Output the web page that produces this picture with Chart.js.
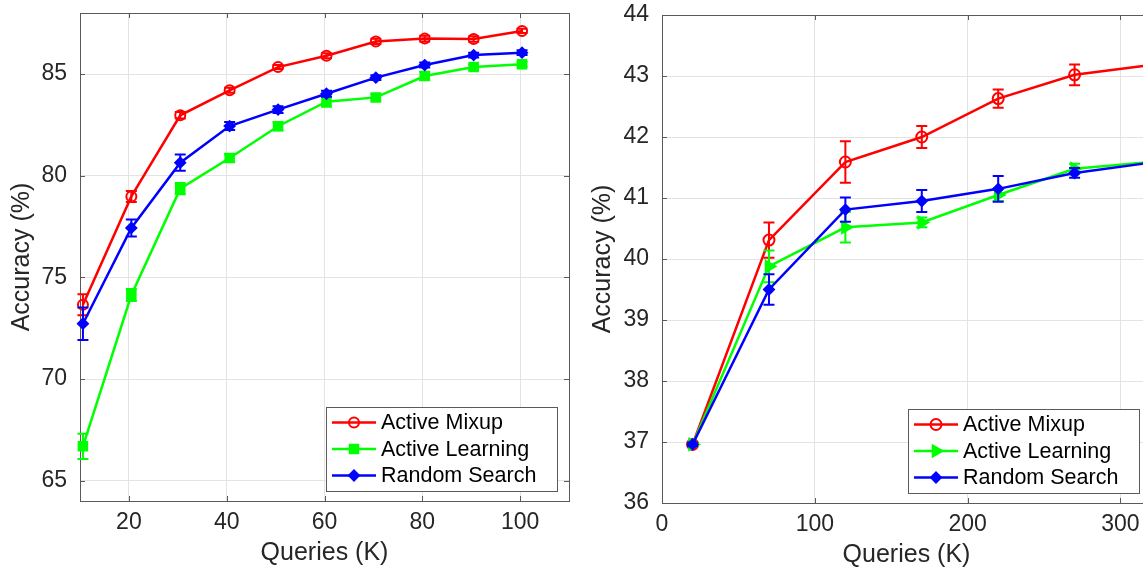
<!DOCTYPE html>
<html>
<head>
<meta charset="utf-8">
<script src="https://cdn.jsdelivr.net/npm/chart.js@4.4.1/dist/chart.umd.min.js"></script>
<style>
html,body{margin:0;padding:0;background:#fff;overflow:hidden;width:1143px;height:571px;}
.wrap{position:absolute;top:0;height:571px;}
</style>
</head>
<body>
<div class="wrap" style="left:0;width:580px"><canvas id="c1" width="580" height="571"></canvas></div>
<div class="wrap" style="left:580px;width:600px"><canvas id="c2" width="600" height="571"></canvas></div>
<script>
// ---------------- DATA ----------------
const seriesNames = ['Active Mixup', 'Active Learning', 'Random Search'];

// Left panel
const leftQueries   = [10.6, 20.5, 30.5, 40.6, 50.5, 60.4, 70.5, 80.5, 90.5, 100.4];
const leftMixup     = [73.65, 78.98, 82.97, 84.20, 85.34, 85.90, 86.60, 86.74, 86.72, 87.12];
const leftMixupErr  = [0.52, 0.27, 0.16, 0.12, 0.10, 0.12, 0.13, 0.14, 0.14, 0.10];
const leftLearning  = [66.69, 74.13, 79.36, 80.87, 82.43, 83.64, 83.85, 84.90, 85.34, 85.48];
const leftLearningErr = [0.62, 0.30, 0.28, 0.20, 0.20, 0.25, 0.16, 0.20, 0.12, 0.12];
const leftRandom    = [72.72, 77.43, 80.64, 82.44, 83.25, 84.03, 84.82, 85.44, 85.93, 86.05];
const leftRandomErr = [0.80, 0.42, 0.40, 0.20, 0.17, 0.15, 0.12, 0.12, 0.12, 0.12];
const leftXTicks = [20, 40, 60, 80, 100];
const leftYTicks = [65, 70, 75, 80, 85];

// Right panel
const rightQueries   = [20, 70, 120, 170, 220, 270, 320];
const rightMixup     = [36.96, 40.31, 41.59, 42.00, 42.63, 43.02, 43.18];
const rightMixupErr  = [0.03, 0.29, 0.34, 0.18, 0.15, 0.17, 0.15];
const rightLearning  = [36.96, 39.88, 40.52, 40.60, 41.05, 41.48, 41.59];
const rightLearningErr = [0.03, 0.26, 0.25, 0.08, 0.10, 0.08, 0.08];
const rightRandom    = [36.96, 39.50, 40.81, 40.95, 41.15, 41.41, 41.58];
const rightRandomErr = [0.03, 0.25, 0.20, 0.18, 0.21, 0.08, 0.08];
const rightXTicks = [0, 100, 200, 300];
const rightYTicks = [36, 37, 38, 39, 40, 41, 42, 43, 44];

const xTitle = 'Queries (K)';
const yTitle = 'Accuracy (%)';

// ---------------- STYLE ----------------
const FONT = '"Liberation Sans", Arial, Helvetica, sans-serif';
const TEXT = '#262626';
const GRID = '#e3e3e3';
const AXIS = '#5a5a5a';
const RED = '#ff0000', GREEN = '#00ff00', BLUE = '#0000ff';

function pts(xs, ys) { return xs.map((x, i) => ({x: x, y: ys[i]})); }

// error bars drawn through the y scale
const errorBarPlugin = {
  id: 'errorBars',
  beforeDatasetDraw(chart, args) {
    const ds = chart.data.datasets[args.index];
    if (!ds.errors) return;
    const ys = chart.scales.y, ctx = chart.ctx, cap = 5.5;
    ctx.save();
    ctx.strokeStyle = ds.borderColor;
    ctx.lineWidth = 2;
    args.meta.data.forEach((p, i) => {
      const v = ds.data[i].y, e = ds.errors[i];
      const yt = ys.getPixelForValue(v + e), yb = ys.getPixelForValue(v - e);
      ctx.beginPath();
      ctx.moveTo(p.x, yt); ctx.lineTo(p.x, yb);
      ctx.moveTo(p.x - cap, yt); ctx.lineTo(p.x + cap, yt);
      ctx.moveTo(p.x - cap, yb); ctx.lineTo(p.x + cap, yb);
      ctx.stroke();
    });
    ctx.restore();
  }
};

// MATLAB-like box with inward ticks
const boxPlugin = {
  id: 'mbox',
  beforeDatasetsDraw(chart) {
    const {ctx, chartArea: a, scales} = chart;
    ctx.save();
    ctx.strokeStyle = AXIS;
    ctx.lineWidth = 1;
    ctx.strokeRect(Math.round(a.left) + 0.5, Math.round(a.top) + 0.5,
                   Math.round(a.right - a.left), Math.round(a.bottom - a.top));
    const tl = 5;
    ctx.beginPath();
    scales.x.ticks.forEach(t => {
      const x = Math.round(scales.x.getPixelForValue(t.value)) + 0.5;
      ctx.moveTo(x, a.bottom); ctx.lineTo(x, a.bottom - tl);
      ctx.moveTo(x, a.top); ctx.lineTo(x, a.top + tl);
    });
    scales.y.ticks.forEach(t => {
      const y = Math.round(scales.y.getPixelForValue(t.value)) + 0.5;
      ctx.moveTo(a.left, y); ctx.lineTo(a.left + tl, y);
      ctx.moveTo(a.right, y); ctx.lineTo(a.right - tl, y);
    });
    ctx.stroke();
    ctx.restore();
  }
};

// legend in the south-east corner
const legendPlugin = {
  id: 'mlegend',
  afterDraw(chart) {
    const {ctx, chartArea: a} = chart;
    const w = 231, h = 84;
    const x0 = Math.round(a.right - 12 - w), y0 = Math.round(a.bottom - 10 - h);
    ctx.save();
    ctx.fillStyle = '#fff';
    ctx.fillRect(x0, y0, w, h);
    ctx.strokeStyle = AXIS;
    ctx.lineWidth = 1;
    ctx.strokeRect(x0 + 0.5, y0 + 0.5, w, h);
    chart.data.datasets.forEach((ds, i) => {
      const y = y0 + 15.5 + 26.5 * i;
      ctx.strokeStyle = ds.borderColor;
      ctx.lineWidth = ds.borderWidth;
      ctx.beginPath();
      ctx.moveTo(x0 + 6, y); ctx.lineTo(x0 + 50, y);
      ctx.stroke();
      ctx.fillStyle = ds.pointBackgroundColor;
      ctx.strokeStyle = ds.borderColor;
      ctx.lineWidth = ds.pointBorderWidth;
      Chart.helpers.drawPoint(ctx, {
        pointStyle: ds.pointStyle, rotation: ds.pointRotation || 0,
        radius: ds.pointRadius, borderWidth: ds.pointBorderWidth
      }, x0 + 28, y);
      ctx.fillStyle = '#000';
      ctx.font = '21.5px ' + FONT;
      ctx.textBaseline = 'middle';
      ctx.textAlign = 'left';
      ctx.fillText(ds.label, x0 + 55, y + 1);
    });
    ctx.restore();
  }
};

function dataset(label, xs, ys, errs, color, style, radius, rot, fill, order) {
  return {
    label: label, data: pts(xs, ys), errors: errs,
    borderColor: color, backgroundColor: color, borderWidth: 2.5,
    pointStyle: style, pointRadius: radius, pointHoverRadius: radius,
    pointRotation: rot, pointBorderWidth: 2,
    pointBackgroundColor: fill ? color : 'rgba(0,0,0,0)',
    pointBorderColor: color, tension: 0, clip: false, order: order
  };
}

function zeroPad(s) { s.paddingTop = 0; s.paddingBottom = 0; s.paddingLeft = 0; s.paddingRight = 0; }

function scales(xmin, xmax, xticks, ymin, ymax, yticks, yW, xH, yTitlePad, xTitlePad) {
  const tickFont = {family: FONT, size: 23};
  const titleFont = {family: FONT, size: 25};
  return {
    x: {
      type: 'linear', min: xmin, max: xmax,
      afterBuildTicks: s => { s.ticks = xticks.map(v => ({value: v})); },
      afterFit: s => { s.height = xH; zeroPad(s); },
      grid: {color: GRID, drawTicks: false, lineWidth: 1},
      border: {display: false},
      ticks: {color: TEXT, font: tickFont, padding: 8, maxRotation: 0, autoSkip: false},
      title: {display: true, text: xTitle, color: TEXT, font: titleFont,
              padding: {top: 0, bottom: xTitlePad}}
    },
    y: {
      type: 'linear', min: ymin, max: ymax,
      afterBuildTicks: s => { s.ticks = yticks.map(v => ({value: v})); },
      afterFit: s => { s.width = yW; zeroPad(s); },
      grid: {color: GRID, drawTicks: false, lineWidth: 1},
      border: {display: false},
      ticks: {color: TEXT, font: tickFont, padding: 13, autoSkip: false},
      title: {display: true, text: yTitle, color: TEXT, font: titleFont,
              padding: {top: yTitlePad, bottom: 0}}
    }
  };
}

const commonOpts = {
  responsive: false, animation: false, devicePixelRatio: 1,
  plugins: {legend: {display: false}, tooltip: {enabled: false}},
  events: []
};

new Chart(document.getElementById('c1'), {
  type: 'line',
  data: {datasets: [
    dataset(seriesNames[0], leftQueries, leftMixup, leftMixupErr, RED, 'circle', 5, 0, false, 3),
    dataset(seriesNames[1], leftQueries, leftLearning, leftLearningErr, GREEN, 'rect', 6, 0, true, 2),
    dataset(seriesNames[2], leftQueries, leftRandom, leftRandomErr, BLUE, 'rectRot', 5, 0, true, 1)
  ]},
  options: Object.assign({}, commonOpts, {
    layout: {padding: {left: 0, top: 13, right: 11, bottom: 0}},
    scales: scales(10, 110, leftXTicks, 64, 88, leftYTicks, 80, 70, 7, 3)
  }),
  plugins: [boxPlugin, errorBarPlugin, legendPlugin]
});

new Chart(document.getElementById('c2'), {
  type: 'line',
  data: {datasets: [
    dataset(seriesNames[0], rightQueries, rightMixup, rightMixupErr, RED, 'circle', 5.5, 0, false, 3),
    dataset(seriesNames[1], rightQueries, rightLearning, rightLearningErr, GREEN, 'triangle', 6.5, 90, true, 2),
    dataset(seriesNames[2], rightQueries, rightRandom, rightRandomErr, BLUE, 'rectRot', 5, 0, true, 1)
  ]},
  options: Object.assign({}, commonOpts, {
    layout: {padding: {left: 0, top: 15, right: 29, bottom: 0}},
    scales: scales(0, 320, rightXTicks, 36, 44, rightYTicks, 82, 68, 8, 1)
  }),
  plugins: [boxPlugin, errorBarPlugin, legendPlugin]
});
</script>
</body>
</html>
